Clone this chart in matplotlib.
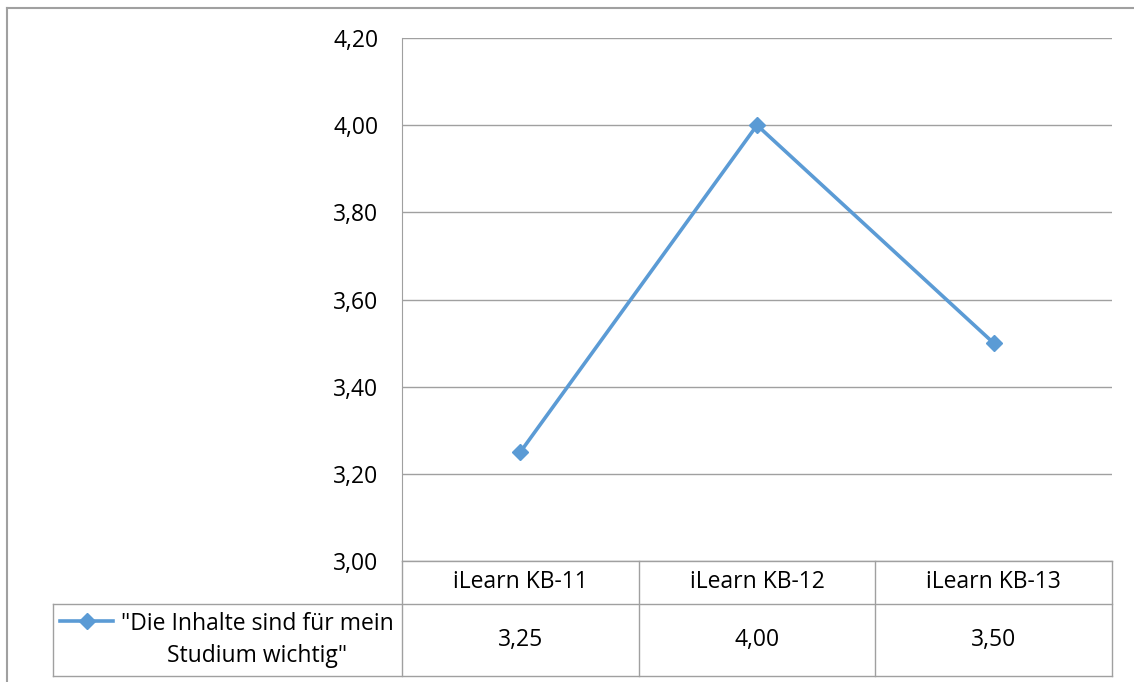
import matplotlib.pyplot as plt
from matplotlib.lines import Line2D

# Werte der Umfrage je Kohorte
kohorten = ['iLearn KB-11', 'iLearn KB-12', 'iLearn KB-13']
werte = [3.25, 4.00, 3.50]
serie = '"Die Inhalte sind für mein\nStudium wichtig"'
y_ticks = [3.00, 3.20, 3.40, 3.60, 3.80, 4.00, 4.20]

plt.rcParams['font.family'] = ['Open Sans', 'DejaVu Sans']

W, H = 1134, 682
blau = '#5B9BD5'
grau = '#a0a0a0'
fs = 16.5


def fmt(v):
    return f'{v:.2f}'.replace('.', ',')


fig = plt.figure(figsize=(W / 100, H / 100), dpi=100)

# Rahmen um das gesamte Diagramm
fig.add_artist(Line2D([7 / W, 7 / W], [0, 1 - 8 / H], color=grau, lw=1.5))
fig.add_artist(Line2D([7 / W, 1], [1 - 8 / H, 1 - 8 / H], color=grau, lw=1.5))

# Zeichenfläche
x0, x1, y0, y1 = 402, 1112, 38, 561
ax = fig.add_axes([x0 / W, 1 - y1 / H, (x1 - x0) / W, (y1 - y0) / H])
x = list(range(len(kohorten)))
ax.plot(x, werte, color=blau, lw=2.6, marker='D', markersize=8, zorder=3)
ax.set_xlim(-0.5, len(kohorten) - 0.5)
ax.set_ylim(y_ticks[0], y_ticks[-1])
ax.set_yticks(y_ticks)
ax.set_yticklabels([fmt(v) for v in y_ticks], fontsize=fs)
ax.set_xticks([])
ax.tick_params(axis='y', length=0, pad=17)
ax.yaxis.grid(True, color=grau, lw=1)
for s in ['top', 'right', 'bottom']:
    ax.spines[s].set_visible(False)
ax.spines['left'].set_color(grau)

# Datentabelle unter der Achse
t_left, t_head, t_bot = 53, 604, 676
cat_w = (x1 - x0) / len(kohorten)
leg_w = (x0 - t_left) / cat_w
tab = fig.add_axes([t_left / W, 1 - t_bot / H, (x1 - t_left) / W, (t_bot - y1) / H])
tab.set_xlim(-0.5 - leg_w, len(kohorten) - 0.5)
tab.set_ylim(0, t_bot - y1)
tab.axis('off')
r_mid = t_bot - t_head
r_top = t_bot - y1
kw = dict(color=grau, lw=1, clip_on=False)
for i in range(len(kohorten) + 1):
    tab.plot([i - 0.5, i - 0.5], [0, r_top], **kw)
tab.plot([-0.5, len(kohorten) - 0.5], [r_top, r_top], **kw)
tab.plot([-0.5 - leg_w, len(kohorten) - 0.5], [0, 0], **kw)
tab.plot([-0.5 - leg_w, len(kohorten) - 0.5], [r_mid, r_mid], **kw)
tab.plot([-0.5 - leg_w, -0.5 - leg_w], [0, r_mid], **kw)
for i, (k, v) in enumerate(zip(kohorten, werte)):
    tab.text(i, (r_mid + r_top) / 2, k, ha='center', va='center', fontsize=fs)
    tab.text(i, r_mid / 2, fmt(v), ha='center', va='center', fontsize=fs)

# Legendenschlüssel in der Tabelle
lx0 = -0.5 - leg_w + 7 / cat_w
lx1 = -0.5 - leg_w + 60 / cat_w
ly = r_mid - 17
tab.plot([lx0, lx1], [ly, ly], color=blau, lw=2.6, clip_on=False)
tab.plot([(lx0 + lx1) / 2], [ly], color=blau, marker='D', markersize=8, clip_on=False)
tab.text(-0.5 - leg_w + 204 / cat_w, r_mid / 2, serie, ha='center', va='center',
         multialignment='center', fontsize=fs, linespacing=1.4)

fig.savefig('out.png', dpi=100, facecolor='white')
